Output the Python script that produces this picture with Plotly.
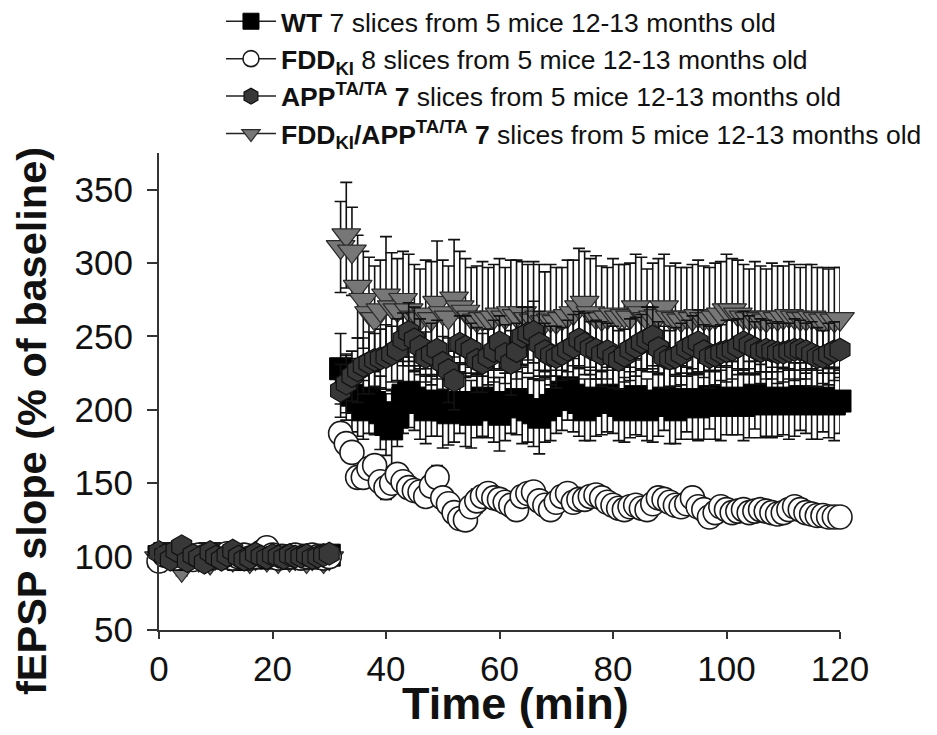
import plotly.graph_objects as go

# ---------------- data ----------------
TIME_BASELINE = list(range(0, 31))          # min
TIME_POST = list(range(32, 121))            # min

WT_BASE = [100, 102, 99, 101, 98, 100, 101, 99, 100, 102, 100, 99, 101, 100, 98, 100,
           101, 99, 100, 100, 101, 99, 100, 100, 99, 101, 100, 100, 99, 100, 101]
WT_POST = [228, 215, 210, 205, 200, 208, 205, 198, 190, 187,
           195, 210, 212, 208, 205, 200, 203, 206, 200, 198,
           202, 205, 200, 197, 203, 208, 205, 200, 197, 202,
           205, 207, 203, 200, 198, 195, 200, 203, 207, 212,
           215, 210, 205, 200, 203, 208, 205, 210, 207, 203,
           200, 205, 209, 205, 200, 203, 206, 208, 203, 200,
           205, 207, 204, 202, 206, 209, 205, 203, 206, 208,
           205, 203, 207, 210, 206, 204, 205, 208, 206, 204,
           207, 209, 206, 204, 206, 208, 205, 204, 206]
WT_SEM_BASE = [4, 3, 4, 5, 3, 4, 4, 3, 5, 4, 3, 4, 4, 3, 4, 5,
               3, 4, 4, 3, 4, 4, 3, 5, 4, 3, 4, 4, 3, 4, 4]
WT_SEM_POST = [24, 22, 25, 23, 20, 24, 22, 25, 21, 26,
               20, 26, 24, 22, 25, 23, 21, 24, 26, 22,
               24, 21, 25, 23, 22, 26, 24, 22, 25, 23,
               21, 24, 26, 22, 23, 25, 22, 24, 23, 26,
               22, 25, 23, 21, 24, 26, 22, 25, 23, 24,
               22, 24, 26, 23, 21, 25, 24, 22, 26, 23,
               25, 22, 24, 23, 26, 22, 25, 24, 23, 25,
               22, 24, 26, 23, 25, 22, 24, 26, 23, 24,
               25, 23, 22, 24, 26, 23, 24, 25, 22]

FDD_BASE = [97, 101, 100, 99, 102, 100, 98, 101, 100, 99, 101, 100, 102, 99, 100, 101,
            99, 100, 103, 106, 101, 99, 100, 100, 101, 99, 100, 101, 100, 99, 100]
FDD_POST = [184, 177, 171, 154, 154, 160, 162, 151, 147, 150,
            156, 151, 147, 145, 144, 141, 148, 154, 140, 136,
            130, 126, 125, 134, 138, 141, 143, 140, 139, 137,
            135, 132, 141, 143, 144, 138, 135, 132, 137, 141,
            143, 137, 139, 139, 141, 142, 140, 137, 135, 133,
            132, 134, 135, 133, 132, 136, 140, 139, 137, 135,
            134, 136, 140, 134, 132, 127, 130, 134, 132, 130,
            131, 132, 130, 131, 132, 131, 130, 129, 130, 132,
            134, 132, 130, 129, 128, 128, 127, 127, 127]
FDD_SEM_BASE = [3, 4, 3, 3, 4, 3, 4, 3, 3, 4, 3, 3, 4, 3, 3, 4,
                3, 3, 4, 3, 3, 4, 3, 3, 4, 3, 3, 4, 3, 3, 4]
FDD_SEM_POST = [6, 7, 6, 5, 6, 7, 5, 6, 8, 6,
                5, 6, 7, 6, 5, 6, 7, 8, 6, 5,
                6, 7, 5, 6, 8, 6, 7, 5, 6, 7,
                6, 5, 7, 6, 5, 6, 7, 6, 5, 6,
                7, 6, 5, 6, 7, 6, 5, 6, 7, 6,
                5, 6, 7, 6, 5, 6, 7, 6, 5, 6,
                6, 7, 5, 6, 6, 7, 5, 6, 7, 6,
                5, 6, 7, 6, 5, 6, 6, 7, 5, 6,
                6, 7, 5, 6, 6, 5, 7, 6, 5]

APP_BASE = [103, 101, 98, 104, 107, 97, 101, 99, 96, 103, 100, 98, 101, 104, 100, 98,
            99, 102, 100, 99, 101, 100, 99, 101, 100, 100, 101, 99, 100, 101, 102]
APP_POST = [213, 218, 223, 227, 230, 232, 234, 235, 236, 238,
            241, 248, 253, 248, 243, 236, 238, 241, 232, 227,
            220, 245, 243, 241, 234, 232, 236, 240, 246, 238,
            232, 240, 250, 252, 253, 245, 240, 237, 236, 238,
            241, 243, 248, 245, 242, 241, 238, 240, 236, 234,
            237, 241, 243, 246, 248, 250, 242, 236, 235, 236,
            238, 242, 244, 246, 240, 236, 237, 239, 240, 241,
            243, 246, 244, 242, 240, 241, 240, 239, 239, 240,
            241, 241, 240, 238, 236, 236, 238, 240, 241]
APP_SEM_BASE = [4, 5, 4, 3, 5, 4, 4, 5, 3, 4, 4, 5, 4, 3, 4, 5,
                4, 4, 3, 5, 4, 4, 5, 3, 4, 4, 5, 4, 3, 4, 4]
APP_SEM_POST = [18, 20, 17, 22, 19, 21, 18, 20, 22, 19,
                21, 18, 20, 22, 19, 17, 21, 20, 18, 22,
                20, 19, 21, 18, 22, 20, 19, 21, 18, 20,
                22, 19, 20, 18, 21, 22, 19, 20, 21, 18,
                20, 22, 19, 21, 18, 20, 22, 19, 21, 20,
                18, 21, 20, 19, 22, 20, 18, 21, 19, 20,
                21, 19, 20, 22, 18, 21, 20, 19, 21, 20,
                19, 21, 20, 18, 22, 20, 19, 21, 20, 19,
                21, 20, 19, 22, 20, 18, 21, 20, 19]

DBL_BASE = [99, 98, 101, 97, 91, 100, 99, 98, 101, 96, 100, 99, 100, 98, 101, 100,
            97, 99, 100, 98, 101, 97, 100, 98, 99, 100, 97, 99, 100, 97, 99]
DBL_POST = [311, 319, 308, 284, 275, 266, 262, 268, 278, 270,
            268, 275, 268, 263, 262, 265, 262, 273, 266, 263,
            276, 270, 267, 263, 261, 262, 262, 263, 265, 263,
            266, 264, 266, 262, 261, 263, 260, 261, 260, 262,
            264, 266, 270, 273, 266, 263, 262, 263, 265, 263,
            264, 263, 270, 266, 262, 263, 264, 270, 263, 262,
            261, 263, 262, 264, 262, 262, 263, 265, 268, 268,
            265, 263, 262, 263, 262, 261, 263, 262, 263, 264,
            263, 262, 262, 263, 262, 261, 262, 261, 262]
DBL_SEM_BASE = [4, 5, 4, 5, 4, 4, 5, 4, 4, 5, 4, 4, 5, 4, 4, 5,
                4, 4, 5, 4, 4, 5, 4, 4, 5, 4, 4, 5, 4, 4, 5]
DBL_SEM_POST = [31, 36, 30, 35, 33, 38, 36, 34, 40, 37,
                35, 33, 38, 36, 34, 37, 39, 42, 36, 35,
                40, 38, 36, 34, 37, 39, 35, 36, 38, 34,
                36, 38, 35, 37, 40, 36, 34, 38, 37, 35,
                38, 36, 40, 35, 37, 42, 36, 34, 38, 36,
                35, 37, 36, 38, 34, 37, 39, 36, 35, 38,
                36, 34, 37, 38, 36, 35, 37, 36, 38, 35,
                37, 36, 34, 38, 36, 35, 37, 36, 35, 37,
                36, 35, 37, 36, 35, 36, 34, 36, 35]

LEGEND_LABELS = [
    "<b>WT</b> 7 slices from 5 mice 12-13 months old",
    "<b>FDD<sub>KI</sub></b> 8 slices from 5 mice 12-13 months old",
    "<b>APP<sup>TA/TA</sup> 7</b> slices from 5 mice 12-13 months old",
    "<b>FDD<sub>KI</sub>/APP<sup>TA/TA</sup> 7</b> slices from 5 mice 12-13 months old",
]

X_TICKS = [0, 20, 40, 60, 80, 100, 120]
Y_TICKS = [50, 100, 150, 200, 250, 300, 350]

FONT = "Liberation Sans, Arial, sans-serif"

# ---------------- styles ----------------
styles = {
    "WT": dict(symbol="square", size=22, color="#000000", line=dict(color="#000000", width=1)),
    "FDD": dict(symbol="circle", size=24, color="#ffffff", line=dict(color="#1a1a1a", width=1.6)),
    "APP": dict(symbol="hexagon", size=23, color="#383838", line=dict(color="#111111", width=1.2)),
    "DBL": dict(symbol="triangle-down", size=25, color="#777777", line=dict(color="#2a2a2a", width=1.2)),
}

series = {
    "WT": (WT_BASE + WT_POST, WT_SEM_BASE + WT_SEM_POST),
    "FDD": (FDD_BASE + FDD_POST, FDD_SEM_BASE + FDD_SEM_POST),
    "APP": (APP_BASE + APP_POST, APP_SEM_BASE + APP_SEM_POST),
    "DBL": (DBL_BASE + DBL_POST, DBL_SEM_BASE + DBL_SEM_POST),
}
times = TIME_BASELINE + TIME_POST

fig = go.Figure()

# draw order (bottom -> top)
for key in ["DBL", "WT", "FDD", "APP"]:
    y, e = series[key]
    fig.add_trace(go.Scatter(
        x=times, y=y, mode="markers",
        marker=styles[key],
        error_y=dict(type="data", array=e, visible=True, color="#111111",
                     thickness=1.6, width=6),
        showlegend=False, cliponaxis=False, hoverinfo="skip",
    ))

# legend entries (line + marker symbol)
for rank, (key, label) in enumerate(zip(["WT", "FDD", "APP", "DBL"], LEGEND_LABELS)):
    m = dict(styles[key])
    fig.add_trace(go.Scatter(
        x=[None], y=[None], mode="lines+markers", name=label,
        marker=m, line=dict(color="#222222", width=1.5),
        legendrank=rank + 1,
    ))

fig.update_layout(
    width=937, height=735,
    margin=dict(l=151, r=105, t=145, b=113, autoexpand=False),
    paper_bgcolor="white", plot_bgcolor="white",
    font=dict(family=FONT, color="#111111"),
    showlegend=True,
    legend=dict(
        x=0.091, y=1.326, xanchor="left", yanchor="top",
        font=dict(family=FONT, size=26.5, color="#111111"),
        bgcolor="rgba(0,0,0,0)", itemwidth=50, tracegroupgap=0,
    ),
    xaxis=dict(
        range=[0, 120], tickvals=X_TICKS, ticktext=[str(v) for v in X_TICKS],
        showgrid=False, zeroline=False, showline=True, linecolor="#333333", linewidth=2,
        ticks="outside", ticklen=7, tickwidth=1.5, tickcolor="#333333",
        tickfont=dict(family=FONT, size=35, color="#111111"),
    ),
    yaxis=dict(
        range=[50, 375], tickvals=Y_TICKS, ticktext=[str(v) for v in Y_TICKS],
        showgrid=False, zeroline=False, showline=True, linecolor="#333333", linewidth=2,
        ticks="outside", ticklen=10, tickwidth=1.5, tickcolor="#333333",
        ticklabelstandoff=7,
        tickfont=dict(family=FONT, size=35, color="#111111"),
    ),
    annotations=[
        dict(text="<b>Time (min)</b>", xref="paper", yref="paper", x=0.523, y=-0.155,
             xanchor="center", yanchor="middle", showarrow=False,
             font=dict(family=FONT, size=45, color="#111111")),
        dict(text="<b>fEPSP slope (% of baseline)</b>", xref="paper", yref="paper",
             x=-0.188, y=0.438, xanchor="center", yanchor="middle", textangle=-90,
             showarrow=False, font=dict(family=FONT, size=41.5, color="#111111")),
    ],
)

fig.write_html("out.html")
